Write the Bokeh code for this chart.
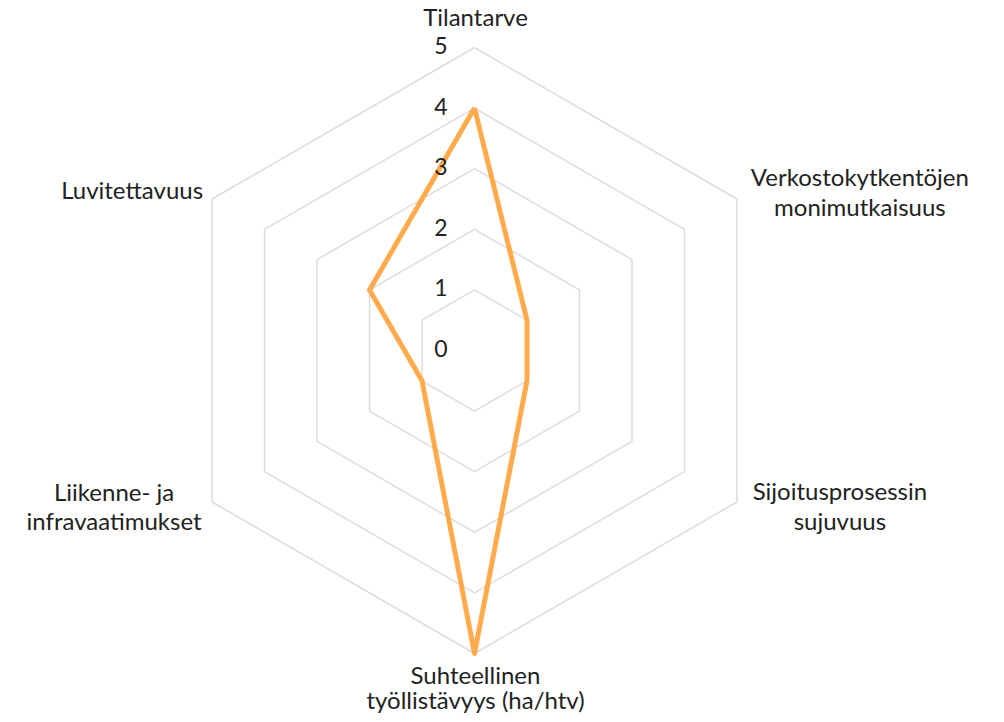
import math
from bokeh.plotting import figure
from bokeh.models import Range1d, ColumnDataSource
from bokeh.core.properties import value
from bokeh.embed import file_html
from bokeh.resources import INLINE

# ---- data ----
categories = ["Tilantarve", "Verkostokytkentöjen\nmonimutkaisuus", "Sijoitusprosessin\nsujuvuus",
              "Suhteellinen\ntyöllistävyys (ha/htv)", "Liikenne- ja\ninfravaatimukset", "Luvitettavuus"]
values = [4, 1, 1, 5, 1, 2]
tick_values = [0, 1, 2, 3, 4, 5]
tick_labels = ["0", "1", "2", "3", "4", "5"]

FONT = "Lato"
W, H = 1004, 722
UNIT = 60.6  # pixels per value unit
cx_px, cy_px = 474, 350  # centre in figure pixels (from top-left)

p = figure(width=W, height=H, output_backend="svg", toolbar_location=None,
           x_range=Range1d(-cx_px / UNIT, (W - cx_px) / UNIT),
           y_range=Range1d(-(H - cy_px) / UNIT, cy_px / UNIT),
           min_border=0)
p.axis.visible = False
p.grid.visible = False
p.outline_line_color = None
p.background_fill_color = "white"

n = len(categories)
angles = [math.pi / 2 - 2 * math.pi * i / n for i in range(n)]

# grid rings
for r in tick_values[1:]:
    xs = [r * math.cos(a) for a in angles] + [r * math.cos(angles[0])]
    ys = [r * math.sin(a) for a in angles] + [r * math.sin(angles[0])]
    p.line(xs, ys, line_color="#dcdcdc", line_width=1.5)

# data line
dx = [v * math.cos(a) for v, a in zip(values, angles)]
dy = [v * math.sin(a) for v, a in zip(values, angles)]
p.line(dx + [dx[0]], dy + [dy[0]], line_color="#FFAA4C", line_width=5, line_join="round")

# tick labels
p.text(x=[0] * len(tick_values), y=tick_values, text=tick_labels,
       x_offset=-27, y_offset=-2, text_align="right", text_baseline="middle",
       text_font=value(FONT), text_font_size="23px", text_color="#222222")

# category labels (line centres in pixel offsets from the outer vertex)
offsets = [(1, -31, 0), (123, -23, 30), (103, -12, 30), (1, 21, 25), (-98, -11, 29), (-80, -10, 0)]
lx, ly, lt, lxo, lyo = [], [], [], [], []
maxr = tick_values[-1]
for cat, a, (ox, oy, gap) in zip(categories, angles, offsets):
    lines = cat.split("\n")
    for k, t in enumerate(lines):
        lx.append(maxr * math.cos(a))
        ly.append(maxr * math.sin(a))
        lt.append(t)
        lxo.append(ox)
        lyo.append(oy + k * gap)
src = ColumnDataSource(dict(x=lx, y=ly, text=lt, xo=lxo, yo=lyo))
p.text(x="x", y="y", text="text", x_offset="xo", y_offset="yo", source=src,
       text_align="center", text_baseline="middle",
       text_font=value(FONT), text_font_size="24px", text_color="#222222")

open("out.html", "w").write(file_html(p, INLINE))
